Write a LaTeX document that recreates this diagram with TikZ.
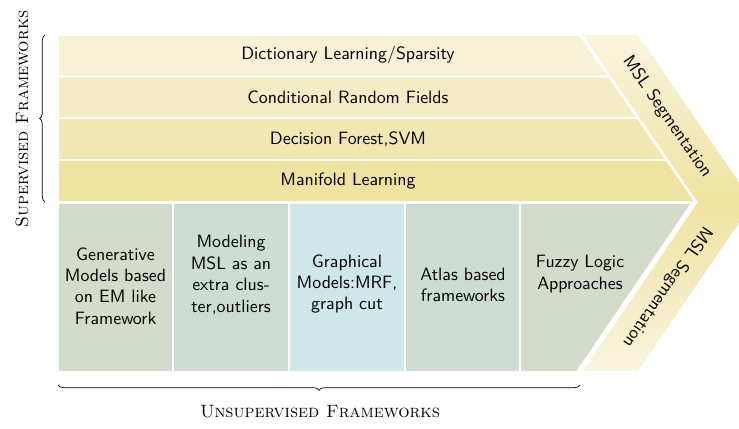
\documentclass[tikz,border=0pt]{standalone}
\usetikzlibrary{decorations.pathreplacing}
\definecolor{rowA}{HTML}{F7F1D6}
\definecolor{rowB}{HTML}{F4ECC5}
\definecolor{rowC}{HTML}{F1E7B3}
\definecolor{rowD}{HTML}{EFE3A1}
\definecolor{colA}{HTML}{D3DBCB}
\definecolor{colB}{HTML}{CDDDD4}
\definecolor{colC}{HTML}{CFE7E8}
\definecolor{chevLight}{HTML}{F9F4DE}
\definecolor{chevDark}{HTML}{EFE3A1}
\tikzset{
  cell/.style={draw=white, line width=1.1pt},
  celltext/.style={font=\sffamily, align=center, inner sep=0pt},
  bracestyle/.style={decorate, decoration={brace, amplitude=3pt}, thin},
  frame/.style={font=\rmfamily}
}
\begin{document}
\begin{tikzpicture}[x=0.56pt,y=-0.56pt]
\path[use as bounding box] (0,0) rectangle (739,429);
\clip (0,0) rectangle (739,429);
% chevron
\path[top color=chevLight, bottom color=chevDark, draw=none]
  (583,35) -- (638,35) -- (753,202.6) -- (698,202.6) -- cycle;
\path[top color=chevDark, bottom color=chevLight, draw=none]
  (698,202) -- (753,202) -- (638,371) -- (583,371) -- cycle;
% supervised rows
\filldraw[cell, fill=rowA] (58,35) -- (580,35) -- (608.8,76.5) -- (58,76.5) -- cycle;
\filldraw[cell, fill=rowB] (58,76.5) -- (608.8,76.5) -- (637.5,118) -- (58,118) -- cycle;
\filldraw[cell, fill=rowC] (58,118) -- (637.5,118) -- (666.6,160) -- (58,160) -- cycle;
\filldraw[cell, fill=rowD] (58,160) -- (666.6,160) -- (695.5,202) -- (58,202) -- cycle;
% unsupervised columns
\filldraw[cell, fill=colA] (58,203) -- (173,203) -- (173,372) -- (58,372) -- cycle;
\filldraw[cell, fill=colB] (173,203) -- (289,203) -- (289,372) -- (173,372) -- cycle;
\filldraw[cell, fill=colC] (289,203) -- (405,203) -- (405,372) -- (289,372) -- cycle;
\filldraw[cell, fill=colB] (405,203) -- (520,203) -- (520,372) -- (405,372) -- cycle;
\filldraw[cell, fill=colA] (520,203) -- (692,203) -- (577,372) -- (520,372) -- cycle;
% row texts
\node[celltext] (r1) at (348,55.5) {Dictionary Learning/Sparsity};
\node[celltext] (r2) at (348,97.5) {Conditional Random Fields};
\node[celltext] (r3) at (348,139) {Decision Forest,SVM};
\node[celltext] (r4) at (348,181) {Manifold Learning};
% column texts
\node[celltext] (c1) at (115.5,286) {Generative\\Models based\\on EM like\\Framework};
\node[celltext] (c2) at (231,275) {Modeling\\MSL as an\\extra clus-\\ter,outliers};
\node[celltext] (c3) at (347,284) {Graphical\\Models:MRF,\\graph cut};
\node[celltext] (c4) at (463,285) {Atlas based\\frameworks};
\node[celltext] (c5) at (580,274) {Fuzzy Logic\\Approaches};
% chevron texts
\node[celltext, rotate=-55.3] (m1) at (667,117) {MSL Segmentation};
\node[celltext, rotate=-124.7] (m2) at (667,287) {MSL Segmentation};
% braces
\coordinate (lb1) at (45,202);
\coordinate (lb2) at (45,35);
\coordinate (bb1) at (580,385);
\coordinate (bb2) at (58,385);
\draw[bracestyle] (lb1) -- (lb2);
\draw[bracestyle] (bb1) -- (bb2);
\node[frame, rotate=90] (sup) at (22,119) {\textsc{Supervised Frameworks}};
\node[frame] (uns) at (320,412) {\textsc{Unsupervised Frameworks}};
\end{tikzpicture}
\end{document}
